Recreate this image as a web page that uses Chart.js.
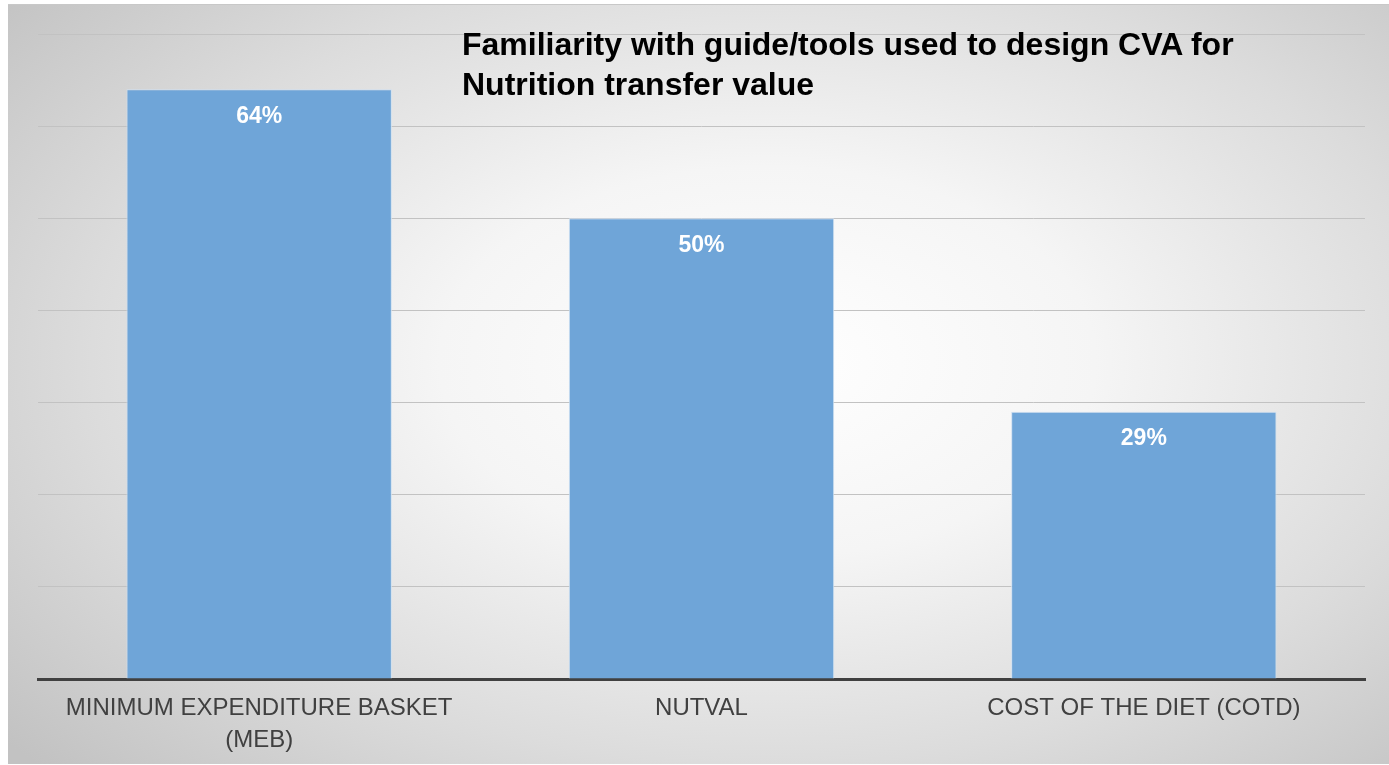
<!DOCTYPE html>
<html>
<head>
<meta charset="utf-8">
<script src="https://cdn.jsdelivr.net/npm/chart.js@4.4.1/dist/chart.umd.min.js"></script>
<style>
  html, body { margin: 0; padding: 0; background: #fff; width: 1389px; height: 765px; overflow: hidden; }
  #panel {
    position: absolute; left: 8px; top: 4px; width: 1381px; height: 759px;
    background: radial-gradient(ellipse 72% 78% at 55% 47%, #ffffff 0%, #f5f5f5 33%, #dcdcdc 68%, #c2c2c2 100%);
    border-top: 1px solid #c8c8c8;
  }
  #title {
    position: absolute; left: 454px; top: 19px;
    font: bold 32px "Liberation Sans", Arial, sans-serif; line-height: 40px; color: #000;
  }
  #chart { position: absolute; left: 0; top: 0; }
</style>
</head>
<body>
<div id="panel">
  <canvas id="chart" width="1381" height="759"></canvas>
  <div id="title">Familiarity with guide/tools used to design CVA for<br>Nutrition transfer value</div>
</div>
<script>
'use strict';

// Categories and values
const categories = [['MINIMUM EXPENDITURE BASKET', '(MEB)'], 'NUTVAL', 'COST OF THE DIET (COTD)'];
const values = [64, 50, 29];
const yMax = 70;
const yStep = 10;

// White bold percentage labels just inside the top of each bar
const barLabels = {
  id: 'barLabels',
  afterDatasetsDraw(chart) {
    const ctx = chart.ctx;
    const meta = chart.getDatasetMeta(0);
    ctx.save();
    ctx.font = 'bold 23px "Liberation Sans", Arial, sans-serif';
    ctx.fillStyle = '#ffffff';
    ctx.textAlign = 'center';
    ctx.textBaseline = 'middle';
    meta.data.forEach((bar, i) => {
      ctx.fillText(values[i] + '%', bar.x, bar.y + 27);
    });
    ctx.restore();
  }
};

new Chart(document.getElementById('chart'), {
  type: 'bar',
  data: {
    labels: categories,
    datasets: [{
      data: values,
      backgroundColor: '#6fa5d8',
      borderColor: '#cfe0f1',
      borderWidth: 1,
      categoryPercentage: 1,
      barPercentage: 0.6,
    }],
  },
  options: {
    responsive: false,
    animation: false,
    layout: { padding: { left: 30, right: 24, top: 29, bottom: 0 } },
    plugins: { legend: { display: false }, title: { display: false }, tooltip: { enabled: false } },
    scales: {
      y: {
        min: 0, max: yMax,
        ticks: { display: false, stepSize: yStep },
        grid: { color: '#c2c2c2', lineWidth: 1, drawTicks: false },
        border: { display: false },
        afterFit(scale) { scale.width = 0; },
      },
      x: {
        grid: { display: false },
        border: { color: '#404040', width: 3 },
        ticks: {
          color: '#404040', maxRotation: 0, padding: 5,
          font: { family: '"Liberation Sans", Arial, sans-serif', size: 24, lineHeight: 1.33 },
        },
        afterFit(scale) { scale.height = 85; },
      },
    },
  },
  plugins: [barLabels],
});
</script>
</body>
</html>
